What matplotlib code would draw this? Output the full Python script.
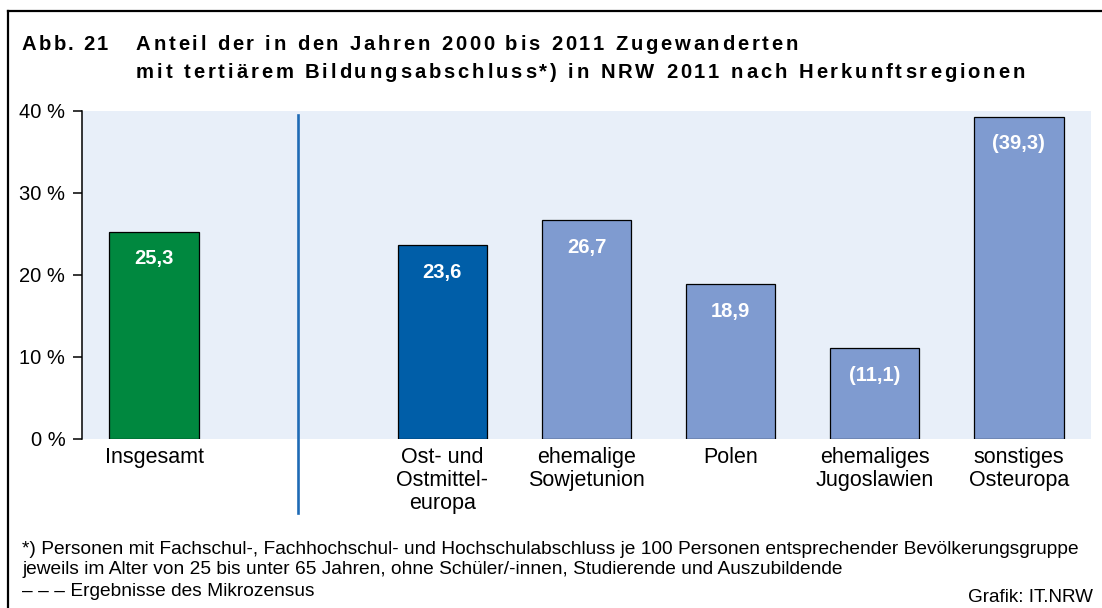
import matplotlib
matplotlib.use('Agg')
import matplotlib.pyplot as plt
from matplotlib.lines import Line2D

# Daten
categories = ["Insgesamt", "Ost- und\nOstmittel-\neuropa", "ehemalige\nSowjetunion",
              "Polen", "ehemaliges\nJugoslawien", "sonstiges\nOsteuropa"]
positions = [0, 2, 3, 4, 5, 6]
values = [25.3, 23.6, 26.7, 18.9, 11.1, 39.3]
value_labels = ["25,3", "23,6", "26,7", "18,9", "(11,1)", "(39,3)"]
bar_colors = ["#00883f", "#005ea8", "#7f9bd0", "#7f9bd0", "#7f9bd0", "#7f9bd0"]
yticks = [0, 10, 20, 30, 40]
ytick_labels = ["0 %", "10 %", "20 %", "30 %", "40 %"]

plt.rcParams["font.family"] = ["Liberation Sans", "DejaVu Sans"]

W, H = 1102, 608
fig = plt.figure(figsize=(W / 100, H / 100), dpi=100)
renderer = fig.canvas.get_renderer()


def text_width(s, **kw):
    t = fig.text(0, 0, s, **kw)
    w = t.get_window_extent(renderer).width
    t.remove()
    return w


def spaced_text(x_px, y_px, s, tracking, **kw):
    # Titel mit Sperrung: Zeichen einzeln setzen
    base = text_width("||", **kw)
    x = x_px
    for ch in s:
        fig.text(x / W, 1 - y_px / H, ch, va="center", ha="left", **kw)
        x += text_width("|" + ch + "|", **kw) - base + tracking


ax = fig.add_axes([82 / W, 1 - 439 / H, (1091 - 82) / W, (439 - 111) / H])
ax.set_facecolor("#e8eff9")

ax.bar(positions, values, width=0.62, color=bar_colors, edgecolor="black", linewidth=0.9, zorder=3)
for x, v, lab in zip(positions, values, value_labels):
    ax.annotate(lab, (x, v), xytext=(0, -19.5), textcoords="offset points",
                ha="center", va="center", color="white", fontsize=14.5, fontweight="bold", zorder=4)

# Trennlinie zwischen Insgesamt und Regionen
ax.axvline(1, ymin=-0.226, ymax=0.988, color="#1f6bb5", linewidth=1.9, clip_on=False, zorder=2)

ax.set_xlim(-0.5, 6.5)
ax.set_ylim(0, 40)
ax.set_yticks(yticks)
ax.set_yticklabels(ytick_labels, fontsize=14.5)
ax.set_xticks(positions)
ax.set_xticklabels(categories, fontsize=15.5, linespacing=1.12, va="top")
ax.tick_params(axis="y", direction="out", length=6.5, width=1.1, pad=5.5)
ax.tick_params(axis="x", length=0, pad=6)
for s in ["top", "right", "bottom"]:
    ax.spines[s].set_visible(False)
ax.spines["left"].set_linewidth(1.1)

# Rahmen (links und oben)
fig.add_artist(Line2D([8 / W, 8 / W], [0, 1 - 11 / H], color="black", linewidth=1.6))
fig.add_artist(Line2D([8 / W, 1], [1 - 11 / H, 1 - 11 / H], color="black", linewidth=1.6))

# Titel
title_kw = dict(fontsize=14.6, fontweight="bold")
spaced_text(22, 45, "Abb. 21", 2.2, **title_kw)
spaced_text(136, 45, "Anteil der in den Jahren 2000 bis 2011 Zugewanderten", 2.75, **title_kw)
spaced_text(136, 72, "mit tertiärem Bildungsabschluss*) in NRW 2011 nach Herkunftsregionen", 2.9, **title_kw)

# Fußnoten
fig.text(22 / W, 1 - 549 / H,
         "*) Personen mit Fachschul-, Fachhochschul- und Hochschulabschluss je 100 Personen entsprechender Bevölkerungsgruppe",
         fontsize=13.8, va="center", ha="left")
fig.text(22 / W, 1 - 570 / H,
         "jeweils im Alter von 25 bis unter 65 Jahren, ohne Schüler/-innen, Studierende und Auszubildende",
         fontsize=13.8, va="center", ha="left")
fig.text(22 / W, 1 - 591 / H, "– – – Ergebnisse des Mikrozensus", fontsize=13.8, va="center", ha="left")
fig.text(1093 / W, 1 - 598 / H, "Grafik: IT.NRW", fontsize=13.6, va="center", ha="right")

fig.savefig("out.png", dpi=100)
plt.close(fig)
